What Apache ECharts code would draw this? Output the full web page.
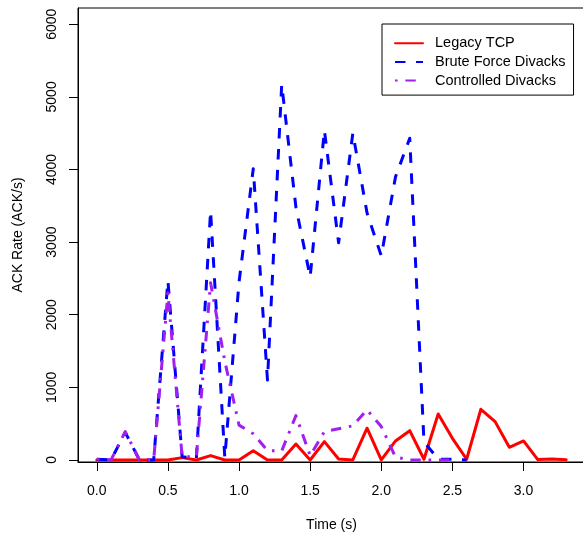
<!DOCTYPE html>
<html><head><meta charset="utf-8">
<script src="https://cdn.jsdelivr.net/npm/echarts@6/dist/echarts.min.js"></script>
<style>html,body{margin:0;padding:0;background:#fff}#c{width:583px;height:534px}</style>
</head><body><div id="c"></div>
<script>
// Time (s) sample points
const time = [0.0,0.1,0.2,0.3,0.4,0.5,0.6,0.7,0.8,0.9,1.0,1.1,1.2,1.3,1.4,1.5,1.6,1.7,1.8,1.9,2.0,2.1,2.2,2.3,2.4,2.5,2.6,2.7,2.8,2.9,3.0,3.1,3.2,3.3];
// ACK rate (ACK/s)
const legacyTCP = [0,0,0,0,0,0,32,0,60,0,0,128,0,0,220,0,252,14,0,437,0,262,403,10,634,298,10,698,528,175,262,5,14,3];
const bruteForce = [10,0,380,0,0,2470,45,20,3430,30,2450,4010,1100,5170,3480,2520,4540,2990,4500,3400,2810,3900,4430,250,10,10,0];
const controlled = [10,0,390,0,0,2300,45,45,2440,1360,480,360,130,125,610,60,390,430,470,690,460,40,0,0,0,0];
const xTicks = [0,0.5,1,1.5,2,2.5,3];
const yTicks = [0,1000,2000,3000,4000,5000,6000];
const seriesNames = ['Legacy TCP','Brute Force Divacks','Controlled Divacks'];

const pairs = arr => arr.map((v,i) => [time[i], v]);
const FONT = 'Liberation Sans, Arial, Helvetica, sans-serif';

const chart = echarts.init(document.getElementById('c'), null, {renderer:'canvas'});
chart.setOption({
  animation: false,
  backgroundColor: '#fff',
  textStyle: {fontFamily: FONT},
  grid: {left: 78, top: 8, width: 507, height: 454, show: true, borderColor: '#000', borderWidth: 1,
         containLabel: false, outerBoundsMode: 'none'},
  xAxis: {
    type: 'value', min: -0.132, max: 3.432,
    name: 'Time (s)', nameLocation: 'middle', nameGap: 56,
    nameTextStyle: {fontSize: 14, color: '#000', fontFamily: FONT},
    axisLine: {show: true, onZero: false, lineStyle: {color: '#000', width: 1}},
    axisTick: {show: true, length: 9, lineStyle: {color: '#000'}, customValues: xTicks},
    axisLabel: {fontSize: 14, color: '#000', margin: 22, fontFamily: FONT, customValues: xTicks,
      formatter: v => v.toFixed(1)},
    splitLine: {show: false}
  },
  yAxis: {
    type: 'value', min: -28, max: 6224,
    name: 'ACK Rate (ACK/s)', nameLocation: 'middle', nameGap: 53,
    nameTextStyle: {fontSize: 14, color: '#000', fontFamily: FONT},
    axisLine: {show: true, onZero: false, lineStyle: {color: '#000', width: 1}},
    axisTick: {show: true, length: 9, lineStyle: {color: '#000'}, customValues: yTicks},
    axisLabel: {fontSize: 14, color: '#000', margin: 19, rotate: 90, fontFamily: FONT, customValues: yTicks,
      formatter: v => String(v)},
    splitLine: {show: false}
  },
  legend: {
    orient: 'vertical', left: 382, top: 24,
    data: seriesNames,
    borderColor: '#000', borderWidth: 1, borderRadius: 0,
    padding: [11.7, 8, 7, 12],
    itemWidth: 28, itemHeight: 14, itemGap: 3.7,
    itemStyle: {opacity: 0},
    textStyle: {fontSize: 14.5, lineHeight: 14, color: '#000', fontFamily: FONT, padding: [0,0,0,7]}
  },
  series: [
    {name: seriesNames[0], type: 'line', data: pairs(legacyTCP), symbol: 'none', clip: true,
     lineStyle: {color: '#FF0000', width: 3, type: 'solid', cap: 'round', join: 'round'}, itemStyle: {color: '#FF0000'}},
    {name: seriesNames[1], type: 'line', data: pairs(bruteForce), symbol: 'none', clip: true,
     lineStyle: {color: '#0000FF', width: 3, type: [10.5,10.5], cap: 'butt', join: 'round'}, itemStyle: {color: '#0000FF'}},
    {name: seriesNames[2], type: 'line', data: pairs(controlled), symbol: 'none', clip: true,
     lineStyle: {color: '#A020F0', width: 3, type: [2.6,7.8,10.4,7.8], cap: 'butt', join: 'round'}, itemStyle: {color: '#A020F0'}}
  ]
});
</script></body></html>
